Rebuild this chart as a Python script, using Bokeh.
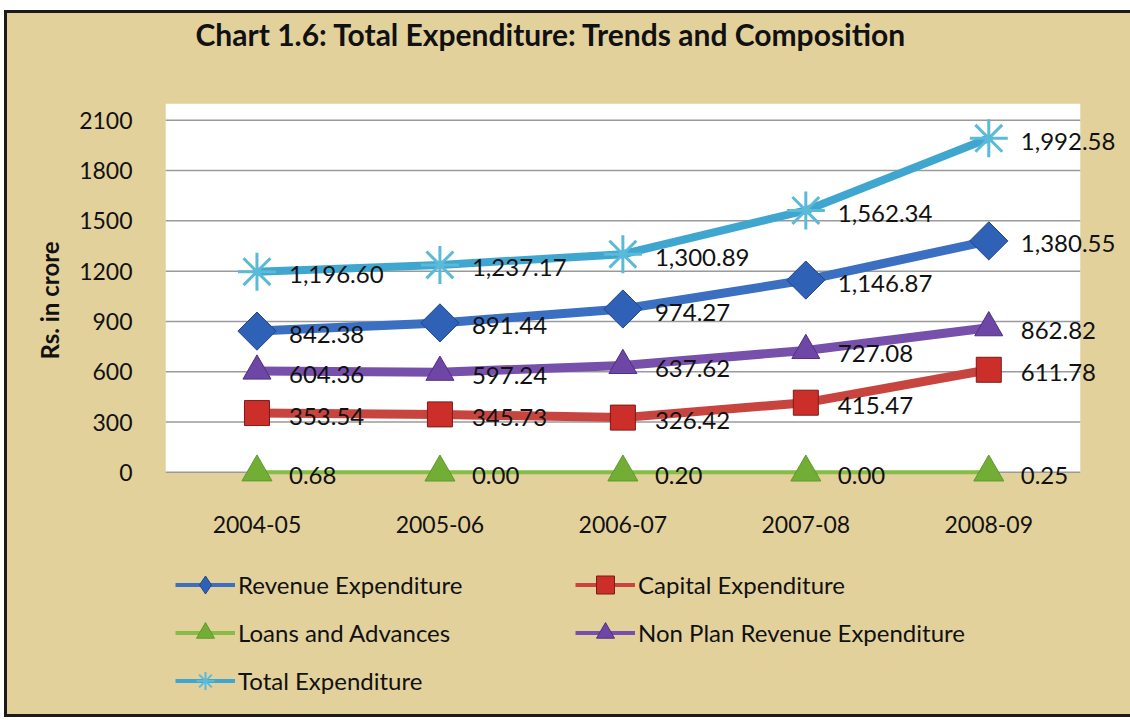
import math
from bokeh.plotting import figure
from bokeh.layouts import column
from bokeh.models import Range1d, FixedTicker, Legend, LegendItem, ColumnDataSource
from bokeh.embed import file_html
from bokeh.resources import INLINE
from bokeh.core.properties import value

# ---- data ----
years = ["2004-05", "2005-06", "2006-07", "2007-08", "2008-09"]
revenue = [842.38, 891.44, 974.27, 1146.87, 1380.55]
capital = [353.54, 345.73, 326.42, 415.47, 611.78]
loans = [0.68, 0.00, 0.20, 0.00, 0.25]
nonplan = [604.36, 597.24, 637.62, 727.08, 862.82]
total = [1196.60, 1237.17, 1300.89, 1562.34, 1992.58]
y_ticks = [0, 300, 600, 900, 1200, 1500, 1800, 2100]

FONT = "Lato"
TAN = "#e3d19c"
INK = "#111111"

xs = list(range(len(years)))
n = len(years)

# page offset of the bordered chart box
OX, OY = 7, 13
W = 1130 - OX
TOP_H = 545 - OY
BOT_H = 714 - 545

p = figure(width=W, height=TOP_H, output_backend="svg", toolbar_location=None,
           x_range=Range1d(-0.5, n - 0.5 + 0.22), y_range=Range1d(-150, 2200),
           min_border_left=165 - OX, min_border_right=10, min_border_top=103 - OY,
           min_border_bottom=545 - 497,
           background_fill_color=TAN, background_fill_alpha=0,
           border_fill_color=TAN, outline_line_color=None)

p.title.text = "Chart 1.6: Total Expenditure:  Trends and Composition\n"
p.title.text_font = FONT
p.title.text_font_size = "30px"
p.title.text_font_style = "bold"
p.title.text_color = INK
p.title.text_line_height = 1.4
p.title.align = "left"
p.title.offset = 30
p.title.standoff = 2

p.grid.visible = False

# white plotting area
p.quad(left=[-0.5], right=[n - 0.5], bottom=[0], top=[2200], fill_color="white", line_color=None)
# gridlines
p.segment(x0=[-0.5] * len(y_ticks), x1=[n - 0.5] * len(y_ticks), y0=y_ticks, y1=y_ticks,
          line_color="#9a9a9a", line_width=1.5)

# axes
p.xaxis.ticker = FixedTicker(ticks=xs)
p.xaxis.major_label_overrides = {i: y for i, y in enumerate(years)}
p.xaxis.axis_line_color = None
p.xaxis.major_tick_line_color = None
p.xaxis.minor_tick_line_color = None
p.xaxis.major_label_standoff = 12
p.xaxis.major_label_text_font = FONT
p.xaxis.major_label_text_font_size = "23px"
p.xaxis.major_label_text_color = INK

p.yaxis.ticker = FixedTicker(ticks=y_ticks)
p.yaxis.axis_line_color = None
p.yaxis.major_tick_line_color = None
p.yaxis.minor_tick_line_color = None
p.yaxis.major_label_standoff = 27
p.yaxis.major_label_text_font = FONT
p.yaxis.major_label_text_font_size = "23px"
p.yaxis.major_label_text_color = INK
p.yaxis.axis_label = "Rs. in crore"
p.yaxis.axis_label_text_font = FONT
p.yaxis.axis_label_text_font_size = "24px"
p.yaxis.axis_label_text_font_style = "bold"
p.yaxis.axis_label_text_color = INK
p.yaxis.axis_label_standoff = 12

series = [
    # name, values, line color, line width, marker, marker size, fill, outline, angle, legend marker
    ("Loans and Advances", loans, "#86bd45", 4, "triangle", 30, "#72ad36", "#5f9a2a", 0, "triangle"),
    ("Capital Expenditure", capital, "#c8453f", 9, "square", 25, "#cc2f2a", "#7d1a17", 0, "square"),
    ("Non Plan Revenue Expenditure", nonplan, "#7650ab", 9, "triangle", 28, "#6d46a6", "#50307e", 0, "triangle"),
    ("Revenue Expenditure", revenue, "#3b6fc2", 9, "square", 27, "#2f62b6", "#1f4686", math.pi / 4, "diamond"),
    ("Total Expenditure", total, "#3fa7cf", 8, "asterisk", 38, "#5bbad8", "#5bbad8", 0, "asterisk"),
]

# legend figure underneath
p2 = figure(width=W, height=BOT_H, output_backend="svg", toolbar_location=None,
            x_range=Range1d(0, 1), y_range=Range1d(0, 1), x_axis_type=None, y_axis_type=None,
            min_border=0, background_fill_color=TAN, background_fill_alpha=0,
            border_fill_color=TAN, outline_line_color=None)
p2.grid.visible = False

items = {}
for name, vals, lc, lw, mk, ms, fc, oc, ang, lmk in series:
    src = ColumnDataSource(dict(x=xs, y=vals, lab=[f"{v:,.2f}" for v in vals]))
    p.line("x", "y", source=src, line_color=lc, line_width=lw)
    p.scatter("x", "y", source=src, marker=mk, size=ms, fill_color=fc,
              line_color=oc, line_width=(3 if mk == "asterisk" else 1), angle=ang)
    p.text("x", "y", text="lab", source=src, x_offset=32, y_offset=3,
           text_font=value(FONT), text_font_size="24px", text_baseline="middle",
           text_align="left", text_color=INK)
    # legend swatches: placed outside the visible range, shown only in the legend
    l1 = p2.line(x=[-9, -8], y=[-9, -9], line_color=lc, line_width=4)
    l2 = p2.scatter(x=[-9], y=[-9], marker=lmk, fill_color=fc, line_color=oc,
                    line_width=(2 if lmk == "asterisk" else 1))
    items[name] = [l1, l2]

legend_cols = [
    (["Revenue Expenditure", "Loans and Advances", "Total Expenditure"], 10, 11),
    (["Capital Expenditure", "Non Plan Revenue Expenditure"], 410, 59),
]
for names, lx, ly in legend_cols:
    lg = Legend(items=[LegendItem(label=o, renderers=items[o]) for o in names],
                location=(lx, ly), orientation="vertical",
                glyph_width=60, glyph_height=45, spacing=3,
                label_standoff=3, padding=0, margin=0,
                background_fill_alpha=0, border_line_alpha=0,
                label_text_font=FONT, label_text_font_size="24px", label_text_color=INK)
    p2.add_layout(lg, "center")

layout = column(p, p2, spacing=0,
                styles={"background-color": TAN, "margin": "10px 0 0 4px",
                        "border-left": "3px solid #1b1b1b", "border-top": "3px solid #1b1b1b",
                        "border-bottom": "3px solid #1b1b1b"})
open("out.html", "w").write(file_html(layout, INLINE))
